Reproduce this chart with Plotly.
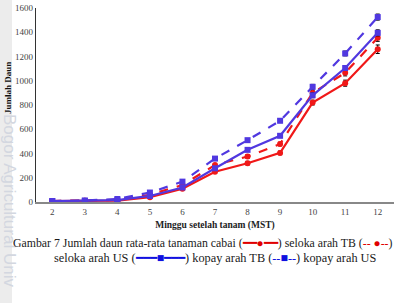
import plotly.graph_objects as go

weeks = [2, 3, 4, 5, 6, 7, 8, 9, 10, 11, 12]
seloka_tb = [8, 10, 12, 40, 110, 250, 320, 405, 820, 980, 1260]
seloka_tb_err = [2, 2, 3, 5, 8, 12, 15, 15, 20, 25, 35]
kopay_tb = [8, 10, 18, 60, 140, 305, 375, 478, 900, 1065, 1355]
kopay_tb_err = [2, 2, 3, 5, 8, 12, 15, 15, 20, 25, 30]
seloka_us = [8, 10, 15, 50, 120, 278, 430, 546, 880, 1105, 1395]
seloka_us_err = [2, 2, 3, 5, 8, 10, 12, 15, 20, 20, 25]
kopay_us = [8, 12, 25, 78, 168, 358, 510, 670, 950, 1225, 1525]
kopay_us_err = [2, 2, 3, 5, 8, 10, 12, 15, 20, 20, 25]
y_ticks = [0, 200, 400, 600, 800, 1000, 1200, 1400, 1600]

RED = "#F01818"
BLUE = "#5038E0"
SERIF = "Liberation Serif, Times New Roman, serif"

fig = go.Figure()

def add(y, err, color, dash, symbol):
    fig.add_trace(go.Scatter(
        x=weeks, y=y, mode="lines+markers",
        line=dict(color=color, width=2.2, dash=dash),
        marker=dict(color=color, size=6, symbol=symbol),
        error_y=dict(type="data", array=err, color="black", thickness=1, width=2),
        showlegend=False))

add(seloka_tb, seloka_tb_err, RED, "solid", "circle")
add(kopay_tb, kopay_tb_err, RED, "dash", "circle")
add(seloka_us, seloka_us_err, BLUE, "solid", "square")
add(kopay_us, kopay_us_err, BLUE, "dash", "square")

fig.update_layout(
    width=396, height=303,
    margin=dict(l=36, r=2, t=8, b=101),
    paper_bgcolor="white", plot_bgcolor="white",
    font=dict(family=SERIF, size=9, color="#333"),
    xaxis=dict(range=[1.5, 12.5], tickvals=weeks, showgrid=False, zeroline=False,
               showline=True, linecolor="#888", linewidth=1.5, ticks="",
               tickfont=dict(size=9, color="#444"),
               title=dict(text="<b>Minggu setelah tanam (MST)</b>", font=dict(size=9.5, color="#222"), standoff=6)),
    yaxis=dict(range=[0, 1600], tickvals=y_ticks, showgrid=False, zeroline=False,
               showline=True, linecolor="#333", linewidth=1.2, ticks="",
               tickfont=dict(size=9, color="#444")),
)

# left grey strip with watermark
fig.add_shape(type="rect", xref="paper", yref="paper",
              x0=-36/358, x1=-24/358, y0=-101/194, y1=1 + 8/194,
              fillcolor="#ECECEC", line=dict(width=0), layer="below")
fig.add_annotation(text="Bogor Agricultural Univ", textangle=90, showarrow=False,
                   xref="paper", yref="paper", x=-26/358, y=(202 - 200) / 194,
                   xanchor="center", yanchor="middle",
                   font=dict(family="Liberation Sans, Arial", size=17, color="#D3D7E0"))
fig.add_annotation(text="<b>Jumlah Daun</b>", textangle=-90, showarrow=False,
                   xref="paper", yref="paper", x=-28/358, y=(202 - 88) / 194,
                   xanchor="center", yanchor="middle",
                   font=dict(family=SERIF, size=9, color="#111"))

cap1 = ("Gambar 7 Jumlah daun rata-rata tanaman cabai (<span style='color:#E00000'>━━●━━</span>) "
        "seloka arah TB (<span style='color:#E00000'>-- ●--</span>)")
cap2 = ("seloka arah US (<span style='color:#1010E0'>━━━■━━━</span>) kopay arah TB "
        "(<span style='color:#1010E0'>--■--</span>) kopay arah US")
fig.add_annotation(text=cap1, showarrow=False, xref="paper", yref="paper",
                   x=(203 - 36) / 358, y=(202 - 243) / 194, xanchor="center", yanchor="middle",
                   font=dict(family=SERIF, size=11.8, color="#1a1a1a"))
fig.add_annotation(text=cap2, showarrow=False, xref="paper", yref="paper",
                   x=(215 - 36) / 358, y=(202 - 258) / 194, xanchor="center", yanchor="middle",
                   font=dict(family=SERIF, size=12.3, color="#1a1a1a"))

fig.write_html("out.html")
